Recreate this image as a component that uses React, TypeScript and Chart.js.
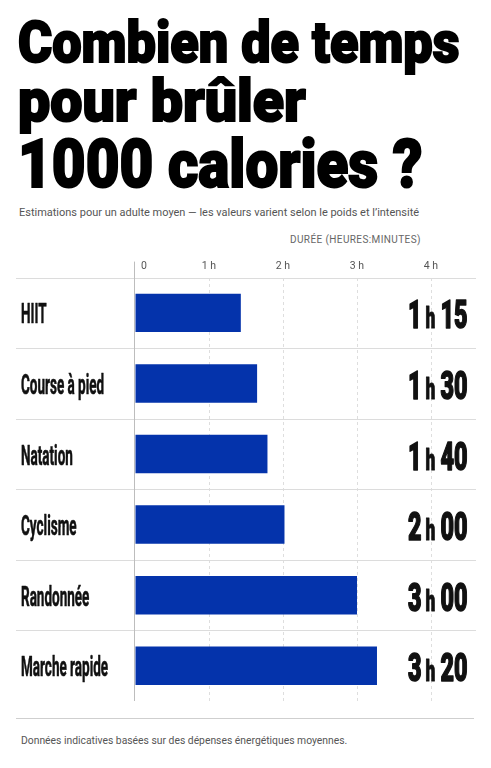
import React, { useEffect, useRef } from 'react';
import { Chart, registerables } from 'chart.js';

Chart.register(...registerables);

// ---- data ----
const categories = ['HIIT', 'Course à pied', 'Natation', 'Cyclisme', 'Randonnée', 'Marche rapide'];
const durationsHours = [1.43, 1.65, 1.79, 2.02, 3.0, 3.27];
const hourLabels = ['1', '1', '1', '2', '3', '3'];
const minuteLabels = ['15', '30', '40', '00', '00', '20'];
const tickValues = [0, 1, 2, 3, 4];
const tickLabels = ['0', '1 h', '2 h', '3 h', '4 h'];

const TITLE_LINES = ['Combien de temps', 'pour brûler', '1000 calories ?'];
const SUBTITLE = 'Estimations pour un adulte moyen — les valeurs varient selon le poids et l\u2019intensité';
const AXIS_TITLE = 'DURÉE (HEURES:MINUTES)';
const FOOTER = 'Données indicatives basées sur des dépenses énergétiques moyennes.';

const BLUE = '#0433ab';

// title line styling: [fontSize, top, scaleX]
const TITLE_STYLE: [number, number, number][] = [
  [58, 13, 0.9],
  [60, 71, 0.955],
  [66, 132, 0.885],
];

const overlayPlugin = {
  id: 'overlay',
  beforeDatasetsDraw(chart: any) {
    const { ctx, chartArea, scales } = chart;
    const y = scales.y;
    const x = scales.x;
    const step = y.getPixelForValue(1) - y.getPixelForValue(0);
    ctx.save();
    ctx.strokeStyle = '#dcdcdc';
    ctx.lineWidth = 1;
    for (let i = 0; i < categories.length; i++) {
      const yy = Math.round(y.getPixelForValue(i) - step / 2) + 0.5;
      ctx.beginPath();
      ctx.moveTo(16, yy);
      ctx.lineTo(chartArea.right, yy);
      ctx.stroke();
    }
    const x0 = Math.round(x.getPixelForValue(0)) - 0.5;
    ctx.strokeStyle = '#bdbdbd';
    ctx.beginPath();
    ctx.moveTo(x0, chartArea.top - 16);
    ctx.lineTo(x0, chartArea.bottom);
    ctx.stroke();
    ctx.restore();
  },
  afterDatasetsDraw(chart: any) {
    const { ctx, scales } = chart;
    const y = scales.y;
    ctx.save();
    ctx.fillStyle = '#111';
    ctx.strokeStyle = '#111';
    ctx.lineJoin = 'round';
    ctx.textBaseline = 'alphabetic';
    // category labels
    for (let i = 0; i < categories.length; i++) {
      const cy = y.getPixelForValue(i);
      ctx.save();
      ctx.translate(21, cy + 10.5);
      ctx.scale(0.5, 1);
      ctx.font = 'bold 27px Roboto';
      ctx.textAlign = 'left';
      ctx.lineWidth = 0.6;
      ctx.fillText(categories[i], 0, 0);
      ctx.strokeText(categories[i], 0, 0);
      ctx.restore();
    }
    // value labels
    const sx = 0.6;
    const right = 467.5;
    const bigFont = '900 39px Roboto';
    const smallFont = '900 29px Roboto';
    for (let i = 0; i < categories.length; i++) {
      const cy = y.getPixelForValue(i) + 15.5;
      ctx.font = bigFont;
      const wMin = ctx.measureText(minuteLabels[i]).width * sx;
      const wHour = ctx.measureText(hourLabels[i]).width * sx;
      ctx.font = smallFont;
      const wH = ctx.measureText('h').width * sx;
      const xMin = right - wMin;
      const xH = xMin - 5 - wH;
      const xHour = xH - 4 - wHour;
      const draw = (t: string, px: number, font: string, lw: number) => {
        ctx.save();
        ctx.translate(px, cy);
        ctx.scale(sx, 1);
        ctx.font = font;
        ctx.textAlign = 'left';
        ctx.lineWidth = lw;
        ctx.fillText(t, 0, 0);
        ctx.strokeText(t, 0, 0);
        ctx.restore();
      };
      draw(minuteLabels[i], xMin, bigFont, 1.6);
      draw('h', xH, smallFont, 1);
      draw(hourLabels[i], xHour, bigFont, 1.6);
    }
    ctx.restore();
  },
};

function BarChart() {
  const ref = useRef<HTMLCanvasElement | null>(null);
  useEffect(() => {
    if (!ref.current) return;
    const chart = new Chart(ref.current, {
      type: 'bar',
      data: {
        labels: categories,
        datasets: [
          {
            data: durationsHours,
            backgroundColor: BLUE,
            borderWidth: 0,
            barPercentage: 1,
            categoryPercentage: 0.545,
          },
        ],
      },
      options: {
        indexAxis: 'y',
        responsive: false,
        animation: false,
        events: [],
        layout: { padding: { left: 135, right: 15, top: 30, bottom: 14 } },
        plugins: { legend: { display: false }, tooltip: { enabled: false }, title: { display: false } },
        scales: {
          x: {
            position: 'top',
            min: 0,
            max: 4.608,
            afterBuildTicks: (scale: any) => {
              scale.ticks = tickValues.map((v) => ({ value: v }));
            },
            ticks: {
              includeBounds: false,
              padding: 5,
              color: '#555',
              font: { family: 'Roboto', size: 10.5 },
              maxRotation: 0,
              callback: (v: any) => {
                const idx = tickValues.indexOf(Number(v));
                if (idx < 0) return '';
                return idx === 0 ? '\u2007\u2007\u2007' + tickLabels[idx] : tickLabels[idx];
              },
            },
            grid: {
              drawTicks: false,
              color: (c: any) => (c.tick && c.tick.value === 0 ? 'rgba(0,0,0,0)' : '#dedede'),
              lineWidth: 1,
              borderDash: [3, 3],
            } as any,
            border: { display: false, dash: [3, 3] } as any,
          },
          y: {
            type: 'category',
            display: false,
            grid: { display: false },
          },
        },
      },
      plugins: [overlayPlugin],
    } as any);
    return () => chart.destroy();
  }, []);
  return <canvas ref={ref} width={491} height={490} style={{ position: 'absolute', left: 0, top: 225, width: 491, height: 490 }} />;
}

export default function App() {
  return (
    <div style={{ position: 'absolute', left: 0, top: 0, width: 491, height: 768, background: '#fff', overflow: 'hidden', fontFamily: 'Roboto, sans-serif' }}>
      {TITLE_LINES.map((l, i) => {
        const [size, top, sx] = TITLE_STYLE[i];
        return (
          <div
            key={i}
            style={{
              position: 'absolute',
              left: 18,
              top,
              fontFamily: 'Roboto',
              fontWeight: 900,
              fontSize: size,
              lineHeight: `${size}px`,
              color: '#000',
              whiteSpace: 'nowrap',
              transform: `scaleX(${sx})`,
              transformOrigin: 'left top',
              WebkitTextStroke: '2px #000',
            }}
          >
            {l}
          </div>
        );
      })}
      <div
        style={{
          position: 'absolute',
          left: 19,
          top: 204,
          fontSize: 11.5,
          lineHeight: '16px',
          color: '#555',
          whiteSpace: 'nowrap',
          transform: 'scaleX(0.955)',
          transformOrigin: 'left top',
        }}
      >
        {SUBTITLE}
      </div>
      <div
        style={{
          position: 'absolute',
          left: 290,
          top: 233,
          fontSize: 10,
          lineHeight: '14px',
          letterSpacing: '0.4px',
          color: '#666',
          whiteSpace: 'nowrap',
        }}
      >
        {AXIS_TITLE}
      </div>
      <BarChart />
      <div style={{ position: 'absolute', left: 16, top: 718, width: 458, borderTop: '1px solid #cfcfcf' }} />
      <div
        style={{
          position: 'absolute',
          left: 21,
          top: 733,
          fontSize: 10.5,
          lineHeight: '16px',
          color: '#555',
          whiteSpace: 'nowrap',
          transform: 'scaleX(0.985)',
          transformOrigin: 'left top',
        }}
      >
        {FOOTER}
      </div>
    </div>
  );
}
